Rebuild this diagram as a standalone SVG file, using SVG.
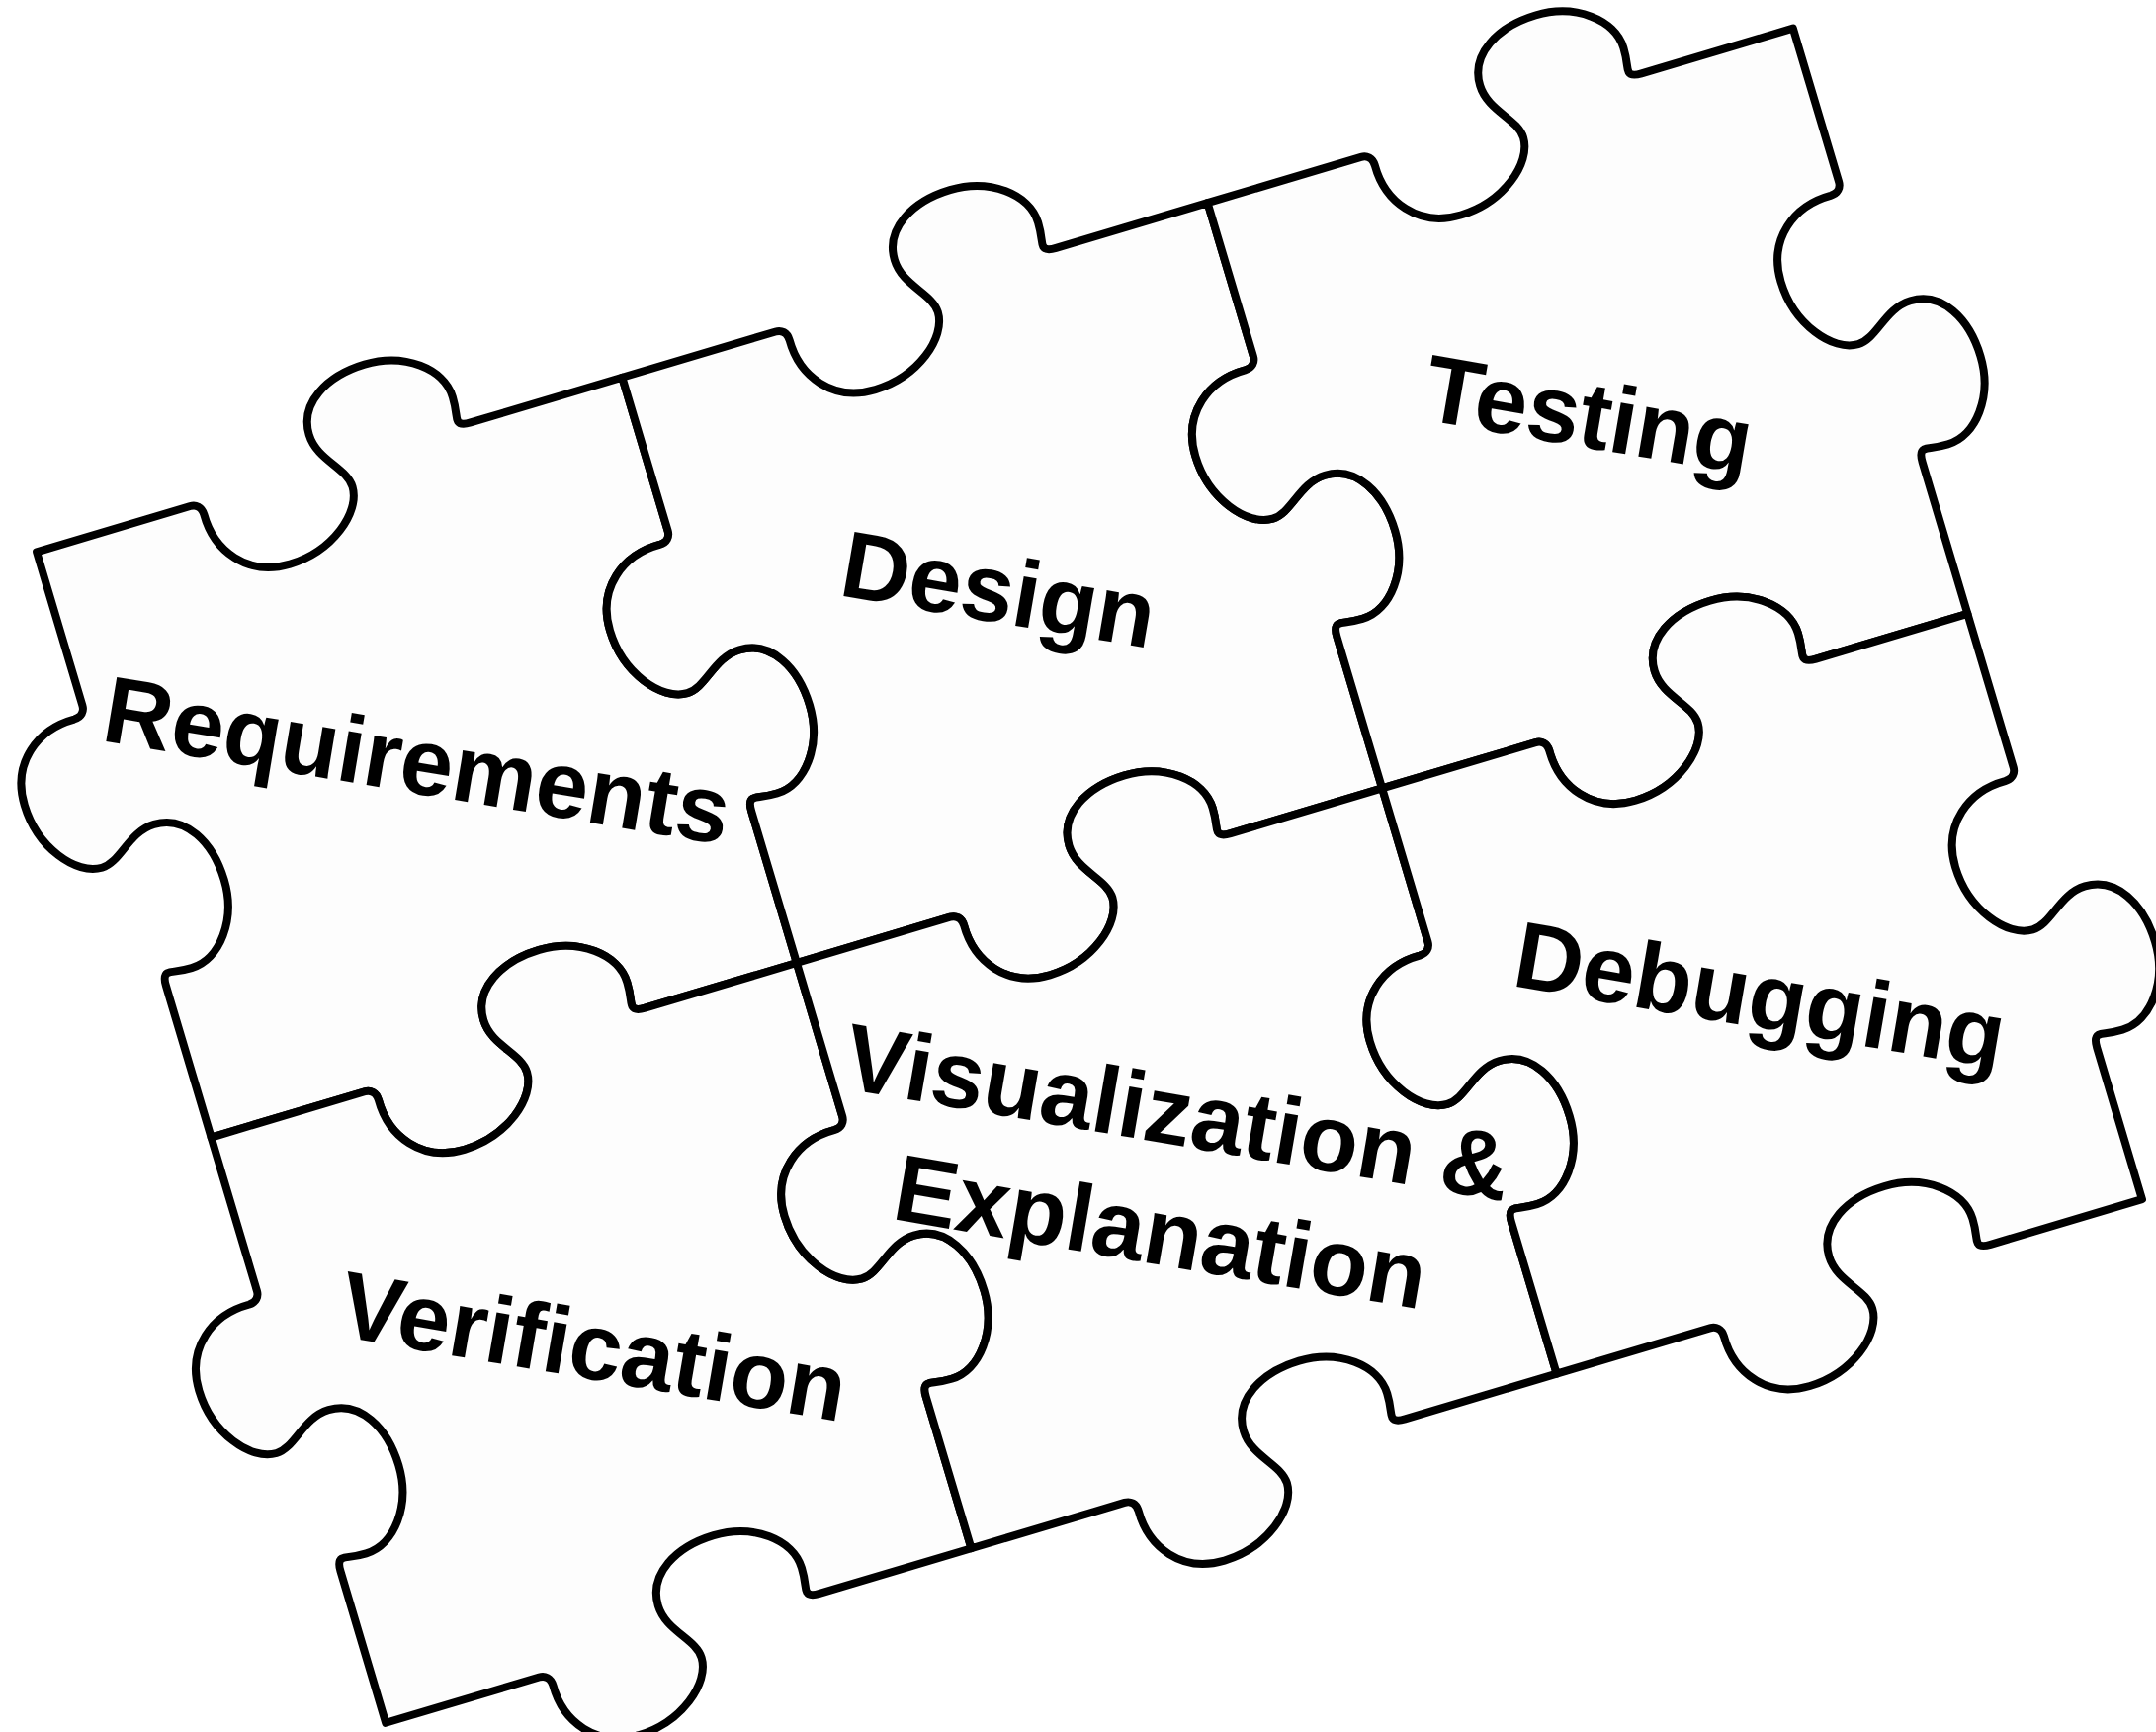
<svg xmlns="http://www.w3.org/2000/svg" xmlns:xlink="http://www.w3.org/1999/xlink" width="2181" height="1752" viewBox="0 0 2181 1752">
  <style>
    .piece { fill: #fdfdfd; stroke: #000; stroke-width: 8; stroke-linejoin: round; stroke-linecap: round; }
    .label { font-family: "Liberation Sans", Arial, Helvetica, sans-serif; font-weight: bold; font-size: 96px; fill: #000; }
  </style>
  <defs>
    <!-- One jigsaw piece in cell units (618 x 618); every edge uses the same S-shaped knob profile -->
    <path id="piece" d="M0,0 H162 C168,0 173,4 173,12 C172,50 197,85 242,85 C287,85 325,55 325,28 C325,8 298,-8 298,-35 C298,-68 332,-87 372,-87 C414,-87 448,-60 448,-30 C448,-14 445,-10 446,-5 C447,-1 451,0 458,0 H618
      V162 C618,168 614,173 606,173 C568,172 533,197 533,242 C533,287 563,325 590,325 C610,325 626,298 653,298 C686,298 705,332 705,372 C705,414 678,448 648,448 C632,448 628,445 623,446 C619,447 618,451 618,458 V618
      H458 C451,618 447,617 446,613 C445,608 448,604 448,588 C448,558 414,531 372,531 C332,531 298,550 298,583 C298,610 325,626 325,646 C325,673 287,703 242,703 C197,703 172,668 173,630 C173,622 168,618 162,618 H0
      V458 C0,451 1,447 5,446 C10,445 14,448 30,448 C60,448 87,414 87,372 C87,332 68,298 35,298 C8,298 -8,325 -28,325 C-55,325 -85,287 -85,242 C-85,197 -50,172 -12,173 C-4,173 0,168 0,162 Z"/>
  </defs>

  <rect width="2181" height="1752" fill="#fff"/>

  <!-- Row 0 -->
  <g id="requirements">
    <use xlink:href="#piece" href="#piece" class="piece" transform="translate(37.1,558.3) rotate(-16.6) translate(0,0)"/>
    <text class="label" transform="translate(101,749) rotate(9.5)">Requirements</text>
  </g>
  <g id="design">
    <use xlink:href="#piece" href="#piece" class="piece" transform="translate(37.1,558.3) rotate(-16.6) translate(618,0)"/>
    <text class="label" transform="translate(847,602) rotate(9.7)">Design</text>
  </g>
  <g id="testing">
    <use xlink:href="#piece" href="#piece" class="piece" transform="translate(37.1,558.3) rotate(-16.6) translate(1236,0)"/>
    <text class="label" transform="translate(1437,424) rotate(9.7)">Testing</text>
  </g>

  <!-- Row 1 -->
  <g id="verification">
    <use xlink:href="#piece" href="#piece" class="piece" transform="translate(37.1,558.3) rotate(-16.6) translate(0,618)"/>
    <text class="label" transform="translate(340,1351) rotate(9.7)">Verification</text>
  </g>
  <g id="visualization-explanation">
    <use xlink:href="#piece" href="#piece" class="piece" transform="translate(37.1,558.3) rotate(-16.6) translate(618,618)"/>
    <text class="label" text-anchor="middle" transform="translate(1199,1160) rotate(9.7)">
      <tspan x="0" y="0">Visualization &amp;</tspan>
      <tspan x="-10" y="122">Explanation</tspan>
    </text>
  </g>
  <g id="debugging">
    <use xlink:href="#piece" href="#piece" class="piece" transform="translate(37.1,558.3) rotate(-16.6) translate(1236,618)"/>
    <text class="label" transform="translate(1528,997) rotate(9.7)">Debugging</text>
  </g>

  <!-- Pieces are joined edge to edge; no separate connectors -->
  <g id="connectors"/>
</svg>
